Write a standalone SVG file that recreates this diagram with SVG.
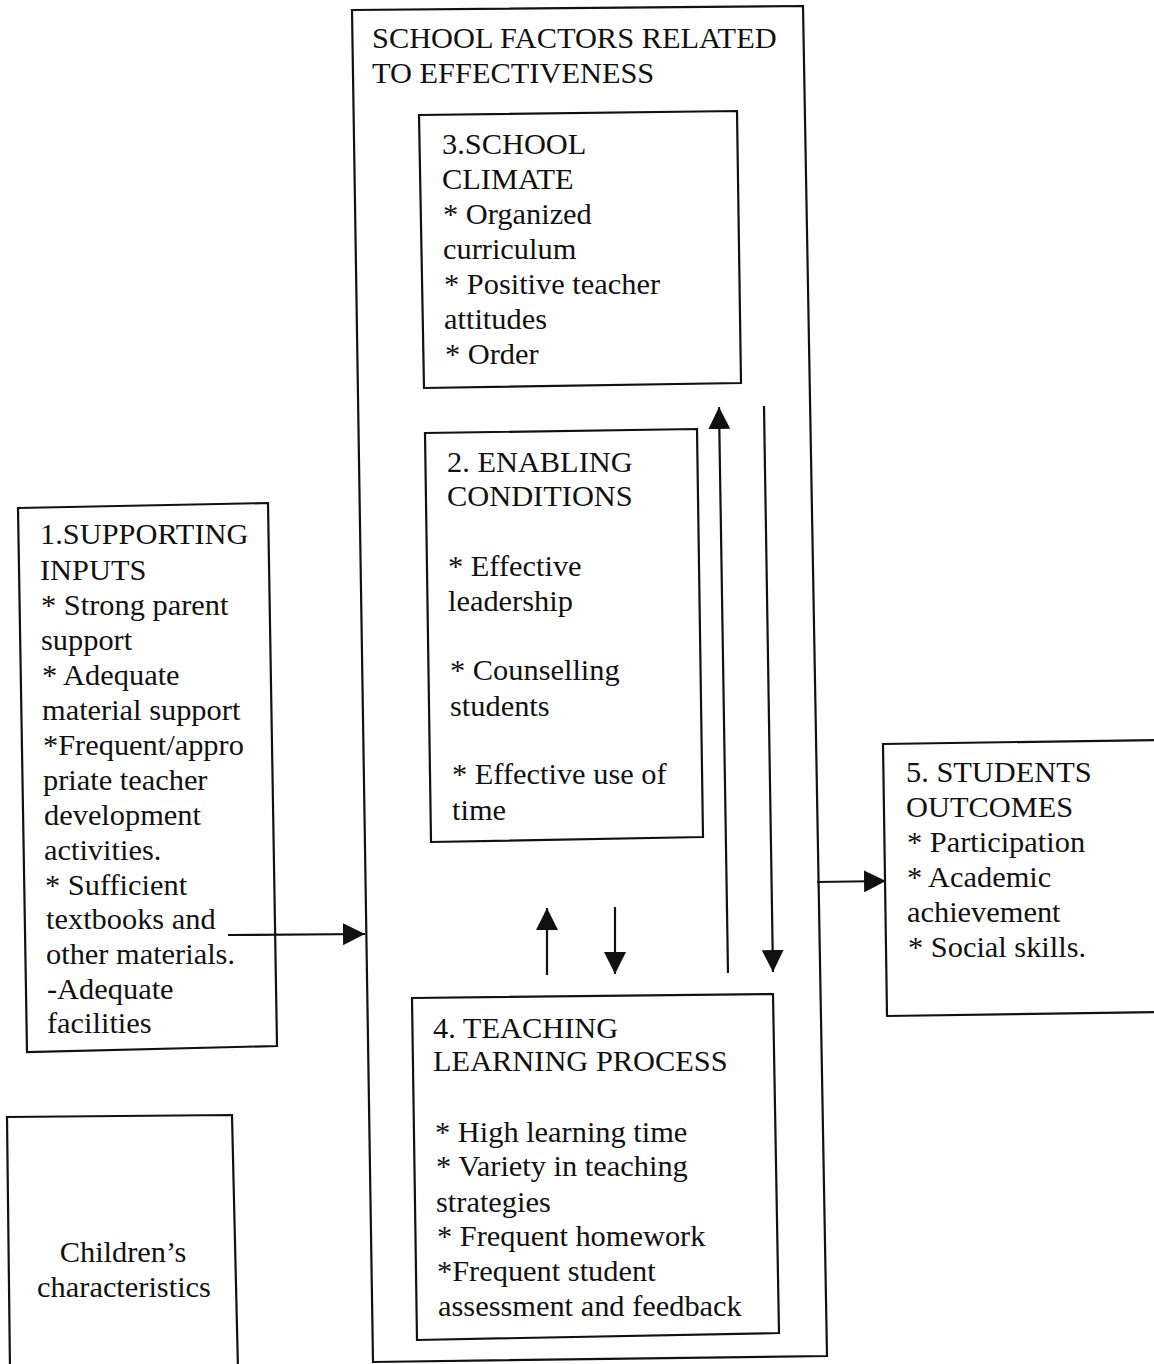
<svg xmlns="http://www.w3.org/2000/svg" width="1154" height="1364" viewBox="0 0 1154 1364">
<style>
.box{fill:none;stroke:#111;stroke-width:2.2}
.t{font-family:"Liberation Serif","Times New Roman",serif;font-size:30.4px;fill:#111}
.c{stroke:#111;stroke-width:2.2;fill:none}
</style>
<defs>
<marker id="ah" markerUnits="userSpaceOnUse" markerWidth="22" markerHeight="22" viewBox="0 0 20 20" refX="20" refY="10" orient="auto">
<path d="M0,0 L20,10 L0,20 Z" fill="#111"/>
</marker>
</defs>
<rect width="1154" height="1364" fill="#fff"/>
<g id="outer">
<polygon class="box" points="352,10 803,6 827,1356 373,1362"/>
<text class="t" x="372" y="48">SCHOOL FACTORS RELATED</text>
<text class="t" x="372" y="83">TO EFFECTIVENESS</text>
</g>
<g id="n3">
<polygon class="box" points="419,115 737,111 741,383 424,388"/>
<text class="t"><tspan x="442" y="154">3.SCHOOL</tspan><tspan x="442" y="189">CLIMATE</tspan><tspan x="443" y="224">* Organized</tspan><tspan x="443" y="259">curriculum</tspan><tspan x="444" y="294">* Positive teacher</tspan><tspan x="444" y="329">attitudes</tspan><tspan x="445" y="364">* Order</tspan></text>
</g>
<g id="n2">
<polygon class="box" points="425,433 697,429 703,837 431,842"/>
<text class="t"><tspan x="447" y="472">2. ENABLING</tspan><tspan x="447" y="506">CONDITIONS</tspan><tspan x="448" y="576">* Effective</tspan><tspan x="448" y="611">leadership</tspan><tspan x="450" y="680">* Counselling</tspan><tspan x="450" y="716">students</tspan><tspan x="452" y="784">* Effective use of</tspan><tspan x="452" y="820">time</tspan></text>
</g>
<g id="n1">
<polygon class="box" points="18,508 268,503 277,1046 27,1052"/>
<text class="t"><tspan x="40" y="544">1.SUPPORTING</tspan><tspan x="40" y="580">INPUTS</tspan><tspan x="41" y="615">* Strong parent</tspan><tspan x="41" y="650">support</tspan><tspan x="42" y="685">* Adequate</tspan><tspan x="42" y="720">material support</tspan><tspan x="43" y="755">*Frequent/appro</tspan><tspan x="43" y="790">priate teacher</tspan><tspan x="44" y="825">development</tspan><tspan x="44" y="860">activities.</tspan><tspan x="45" y="895">* Sufficient</tspan><tspan x="46" y="929">textbooks and</tspan><tspan x="46" y="964">other materials.</tspan><tspan x="47" y="999">-Adequate</tspan><tspan x="47" y="1033">facilities</tspan></text>
</g>
<g id="n5">
<polygon class="box" points="883,744 1156,740 1156,1012 887,1016"/>
<text class="t"><tspan x="906" y="782">5. STUDENTS</tspan><tspan x="906" y="817">OUTCOMES</tspan><tspan x="907" y="852">* Participation</tspan><tspan x="907" y="887">* Academic</tspan><tspan x="907" y="922">achievement</tspan><tspan x="908" y="957">* Social skills.</tspan></text>
</g>
<g id="n4">
<polygon class="box" points="412,998 773,994 779,1333 417,1340"/>
<text class="t"><tspan x="433" y="1038">4. TEACHING</tspan><tspan x="433" y="1071">LEARNING PROCESS</tspan><tspan x="435" y="1142">* High learning time</tspan><tspan x="436" y="1176">* Variety in teaching</tspan><tspan x="436" y="1212">strategies</tspan><tspan x="437" y="1246">* Frequent homework</tspan><tspan x="437" y="1281">*Frequent student</tspan><tspan x="438" y="1316">assessment and feedback</tspan></text>
</g>
<g id="n6">
<polyline class="box" points="10,1370 7,1117 232,1115 238,1370"/>
<text class="t" text-anchor="middle"><tspan x="123" y="1262">Children’s</tspan><tspan x="124" y="1297">characteristics</tspan></text>
</g>
<g id="connectors">
<line class="c" x1="228" y1="935" x2="365" y2="934" marker-end="url(#ah)"/>
<line class="c" x1="817" y1="882" x2="886" y2="881" marker-end="url(#ah)"/>
<line class="c" x1="547" y1="975" x2="547" y2="908" marker-end="url(#ah)"/>
<line class="c" x1="615" y1="907" x2="615" y2="974" marker-end="url(#ah)"/>
<line class="c" x1="728" y1="973" x2="719" y2="407" marker-end="url(#ah)"/>
<line class="c" x1="764" y1="406" x2="773" y2="972" marker-end="url(#ah)"/>
</g>
</svg>
